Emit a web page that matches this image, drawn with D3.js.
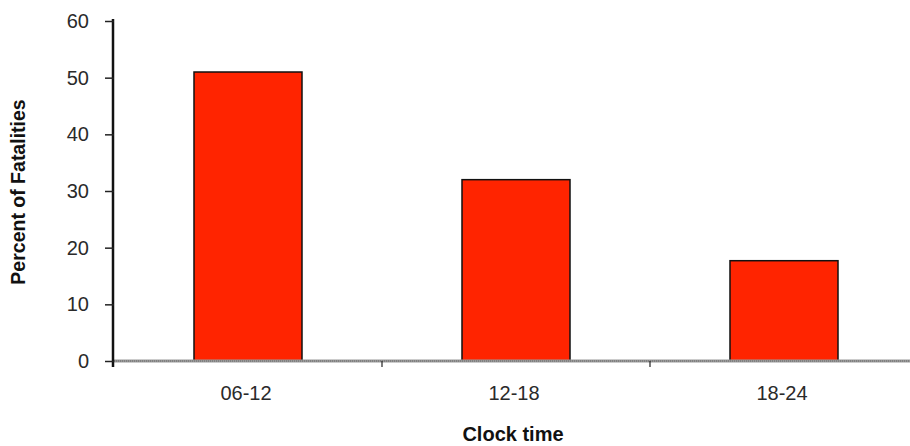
<!DOCTYPE html>
<html><head><meta charset="utf-8">
<script src="https://cdn.jsdelivr.net/npm/d3@7"></script>
<style>body{margin:0;background:#fff}svg{display:block}text{font-family:"Liberation Sans",Arial,sans-serif}</style>
</head><body><svg id="c" width="910" height="446"></svg>
<script>
const categories = ["06-12", "12-18", "18-24"];
const values = [51, 32, 17.7];
const yTicks = [0, 10, 20, 30, 40, 50, 60];
const xTitle = "Clock time";
const yTitle = "Percent of Fatalities";

const svg = d3.select("#c");
const x0 = 114, x1 = 918, yTop = 21, yBot = 361;
const x = d3.scaleBand().domain(categories).range([x0, x1]).paddingInner(0.597).paddingOuter(0.2985);
const y = d3.scaleLinear().domain([0, 60]).range([yBot, yTop]);

// bars
svg.selectAll("rect.bar").data(values).join("rect").attr("class","bar")
  .attr("x", (d,i)=>x(categories[i])).attr("width", x.bandwidth())
  .attr("y", d=>y(d)).attr("height", d=>y(0)-y(d))
  .attr("fill", "#ff2400").attr("stroke", "#111").attr("stroke-width", 1.5);

// x axis (gray hatched)
svg.append("line").attr("x1", x0).attr("x2", 910).attr("y1", y(0)).attr("y2", y(0))
  .attr("stroke", "#9a9a9a").attr("stroke-width", 3);
svg.append("line").attr("x1", x0).attr("x2", 910).attr("y1", y(0)).attr("y2", y(0))
  .attr("stroke", "#666").attr("stroke-width", 1).attr("stroke-dasharray", "1,1");

// x tick marks at category boundaries
const step = x.step();
const bounds = categories.slice(1).map(c => x(c) - x.paddingInner()*step/2);
svg.selectAll("line.xt").data(bounds).join("line").attr("class","xt")
  .attr("x1", d=>d).attr("x2", d=>d).attr("y1", y(0)).attr("y2", y(0)+6)
  .attr("stroke", "#222").attr("stroke-width", 1.2);

// x labels
svg.selectAll("text.xl").data(categories).join("text").attr("class","xl")
  .attr("x", d=>x(d)+x.bandwidth()/2 - 2).attr("y", 400).attr("text-anchor","middle")
  .attr("font-size", 20).attr("fill", "#2a2a2a").text(d=>d);

// y axis
const yAxis = d3.axisLeft(y).tickValues(yTicks).tickSize(9).tickPadding(16);
const ga = svg.append("g").attr("transform", `translate(${x0},0)`).call(yAxis);
ga.select(".domain").attr("stroke", "#111").attr("stroke-width", 2.5).attr("d", `M-1,${yTop-2}V${yBot+6}`);
ga.selectAll(".tick line").attr("stroke", "#222").attr("stroke-width", 1.5);
ga.selectAll(".tick text").attr("font-size", 20).attr("fill", "#2a2a2a")
  .style("font-family", '"Liberation Sans",Arial,sans-serif');

// titles
svg.append("text").attr("x", x(categories[1]) + x.bandwidth()/2 - 3).attr("y", 441)
  .attr("text-anchor","middle").attr("font-size", 20).attr("font-weight","bold").attr("fill","#111").text(xTitle);
svg.append("text").attr("transform", `translate(25,${(yTop+yBot)/2 + 1}) rotate(-90)`)
  .attr("text-anchor","middle").attr("font-size", 19.5).attr("font-weight","bold").attr("fill","#111").text(yTitle);
</script></body></html>
